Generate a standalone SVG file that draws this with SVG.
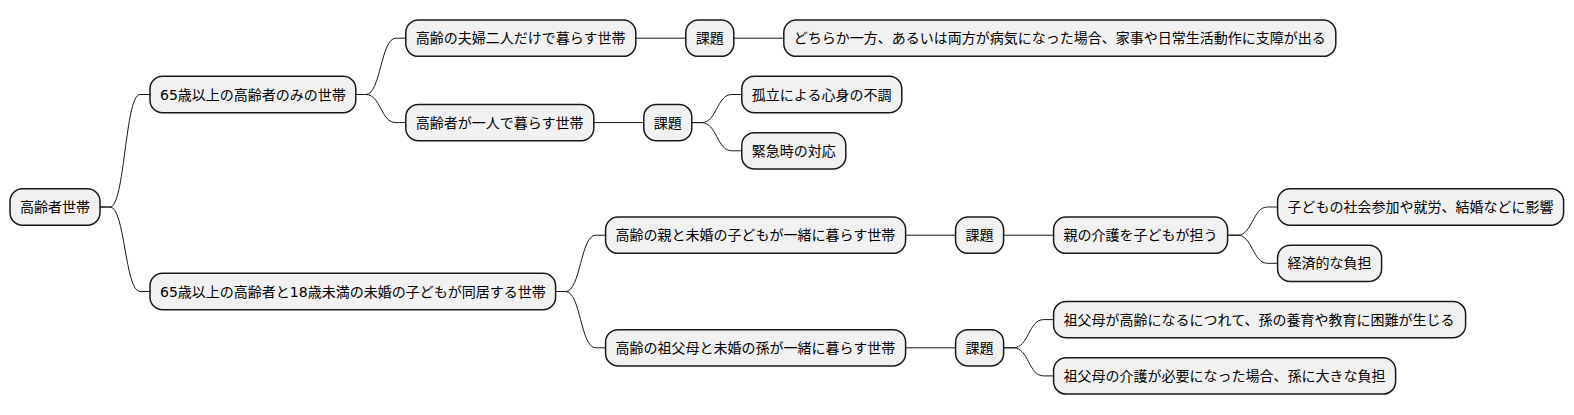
<svg xmlns="http://www.w3.org/2000/svg" width="1574" height="415" viewBox="0 0 1574 415">
<style>
.n rect{fill:#F1F1F1;stroke:#181818;stroke-width:1.5}
.n text{font-family:"DejaVu Sans","Noto Sans CJK JP",sans-serif;font-size:14px;fill:#000000}
.c path{fill:none;stroke:#181818;stroke-width:1}
</style>
<rect width="1574" height="415" fill="#FFFFFF"/>
<g class="c" id="connectors">
<path d="M100,207 L110,207 C125,207 125,94.5 140,94.5 L150,94.5"/>
<path d="M100,207 L110,207 C125,207 125,291.5 140,291.5 L150,291.5"/>
<path d="M355.8,94.5 L365.8,94.5 C380.8,94.5 380.8,38.2 395.8,38.2 L405.8,38.2"/>
<path d="M355.8,94.5 L365.8,94.5 C380.8,94.5 380.8,122.6 395.8,122.6 L405.8,122.6"/>
<path d="M635.8,38.2 L685.8,38.2"/>
<path d="M733.8,38.2 L783.8,38.2"/>
<path d="M593.8,122.6 L643.8,122.6"/>
<path d="M691.8,122.6 L701.8,122.6 C716.8,122.6 716.8,94.5 731.8,94.5 L741.8,94.5"/>
<path d="M691.8,122.6 L701.8,122.6 C716.8,122.6 716.8,150.8 731.8,150.8 L741.8,150.8"/>
<path d="M555.6,291.5 L565.6,291.5 C580.6,291.5 580.6,235.2 595.6,235.2 L605.6,235.2"/>
<path d="M555.6,291.5 L565.6,291.5 C580.6,291.5 580.6,347.8 595.6,347.8 L605.6,347.8"/>
<path d="M905.6,235.2 L955.6,235.2"/>
<path d="M1003.6,235.2 L1053.6,235.2"/>
<path d="M1227.6,235.2 L1237.6,235.2 C1252.6,235.2 1252.6,207 1267.6,207 L1277.6,207"/>
<path d="M1227.6,235.2 L1237.6,235.2 C1252.6,235.2 1252.6,263.3 1267.6,263.3 L1277.6,263.3"/>
<path d="M905.6,347.8 L955.6,347.8"/>
<path d="M1003.6,347.8 L1013.6,347.8 C1028.6,347.8 1028.6,319.6 1043.6,319.6 L1053.6,319.6"/>
<path d="M1003.6,347.8 L1013.6,347.8 C1028.6,347.8 1028.6,375.9 1043.6,375.9 L1053.6,375.9"/>
</g>
<g class="n" id="root"><rect x="10" y="188.85" width="90" height="36.3" rx="12.5"/><text x="20" y="212">高齢者世帯</text></g>
<g class="n" id="l1a"><rect x="150" y="76.35" width="205.8" height="36.3" rx="12.5"/><text x="160" y="99.5">65歳以上の高齢者のみの世帯</text></g>
<g class="n" id="l2a"><rect x="405.8" y="20.05" width="230" height="36.3" rx="12.5"/><text x="415.8" y="43.2">高齢の夫婦二人だけで暮らす世帯</text></g>
<g class="n" id="issue1"><rect x="685.8" y="20.05" width="48" height="36.3" rx="12.5"/><text x="695.8" y="43.2">課題</text></g>
<g class="n" id="leaf1"><rect x="783.8" y="20.05" width="552" height="36.3" rx="12.5"/><text x="793.8" y="43.2">どちらか一方、あるいは両方が病気になった場合、家事や日常生活動作に支障が出る</text></g>
<g class="n" id="l2b"><rect x="405.8" y="104.45" width="188" height="36.3" rx="12.5"/><text x="415.8" y="127.6">高齢者が一人で暮らす世帯</text></g>
<g class="n" id="issue2"><rect x="643.8" y="104.45" width="48" height="36.3" rx="12.5"/><text x="653.8" y="127.6">課題</text></g>
<g class="n" id="leaf2"><rect x="741.8" y="76.35" width="160" height="36.3" rx="12.5"/><text x="751.8" y="99.5">孤立による心身の不調</text></g>
<g class="n" id="leaf3"><rect x="741.8" y="132.65" width="104" height="36.3" rx="12.5"/><text x="751.8" y="155.8">緊急時の対応</text></g>
<g class="n" id="l1b"><rect x="150" y="273.35" width="405.6" height="36.3" rx="12.5"/><text x="160" y="296.5">65歳以上の高齢者と18歳未満の未婚の子どもが同居する世帯</text></g>
<g class="n" id="l2c"><rect x="605.6" y="217.05" width="300" height="36.3" rx="12.5"/><text x="615.6" y="240.2">高齢の親と未婚の子どもが一緒に暮らす世帯</text></g>
<g class="n" id="issue3"><rect x="955.6" y="217.05" width="48" height="36.3" rx="12.5"/><text x="965.6" y="240.2">課題</text></g>
<g class="n" id="care"><rect x="1053.6" y="217.05" width="174" height="36.3" rx="12.5"/><text x="1063.6" y="240.2">親の介護を子どもが担う</text></g>
<g class="n" id="leaf4"><rect x="1277.6" y="188.85" width="286" height="36.3" rx="12.5"/><text x="1287.6" y="212">子どもの社会参加や就労、結婚などに影響</text></g>
<g class="n" id="leaf5"><rect x="1277.6" y="245.15" width="104" height="36.3" rx="12.5"/><text x="1287.6" y="268.3">経済的な負担</text></g>
<g class="n" id="l2d"><rect x="605.6" y="329.65" width="300" height="36.3" rx="12.5"/><text x="615.6" y="352.8">高齢の祖父母と未婚の孫が一緒に暮らす世帯</text></g>
<g class="n" id="issue4"><rect x="955.6" y="329.65" width="48" height="36.3" rx="12.5"/><text x="965.6" y="352.8">課題</text></g>
<g class="n" id="leaf6"><rect x="1053.6" y="301.45" width="412" height="36.3" rx="12.5"/><text x="1063.6" y="324.6">祖父母が高齢になるにつれて、孫の養育や教育に困難が生じる</text></g>
<g class="n" id="leaf7"><rect x="1053.6" y="357.75" width="342" height="36.3" rx="12.5"/><text x="1063.6" y="380.9">祖父母の介護が必要になった場合、孫に大きな負担</text></g>
</svg>
